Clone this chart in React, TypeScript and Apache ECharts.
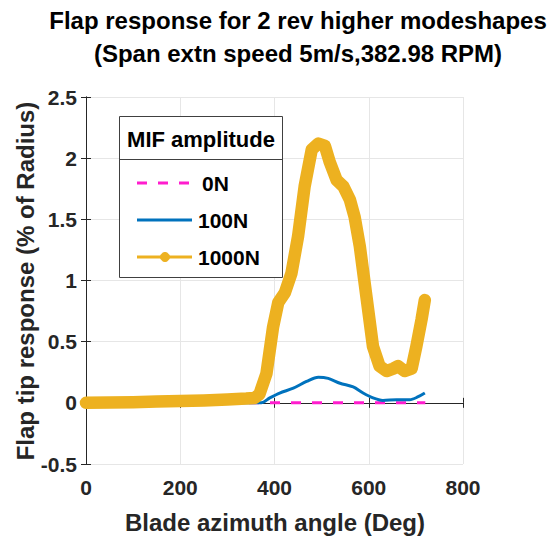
import React, { useEffect, useRef } from "react";
import * as echarts from "echarts";

const titleLines = ["Flap response for 2 rev higher modeshapes", "(Span extn speed 5m/s,382.98 RPM)"];
const xAxisName = "Blade azimuth angle (Deg)";
const yAxisName = "Flap tip response (% of Radius)";
const legendTitle = "MIF amplitude";
const seriesNames = ["0N", "100N", "1000N"];

const angles0N = [0, 720];
const values0N = [0, 0];

const angles100N = [0, 100, 200, 300, 360, 372, 390, 411, 440, 468, 493, 514, 539, 567, 588, 609, 630, 659, 687, 705, 719];
const values100N = [0, 0, 0, 0, 0, 0, 0.04, 0.08, 0.12, 0.175, 0.21, 0.2, 0.16, 0.13, 0.08, 0.04, 0.02, 0.025, 0.025, 0.05, 0.08];

const angles1000N = [0, 50, 100, 150, 200, 250, 300, 340, 358, 368, 383, 397, 408, 422, 436, 450, 464, 479, 493, 507, 517, 532, 546, 560, 570, 581, 595, 609, 623, 638, 652, 662, 676, 691, 701, 712, 719];
const values1000N = [0, 0.002, 0.005, 0.01, 0.015, 0.02, 0.028, 0.035, 0.04, 0.07, 0.24, 0.62, 0.82, 0.9, 1.06, 1.36, 1.77, 2.07, 2.12, 2.1, 1.97, 1.82, 1.77, 1.66, 1.52, 1.28, 0.87, 0.46, 0.3, 0.26, 0.28, 0.3, 0.26, 0.28, 0.46, 0.68, 0.84];

const colors = ["#FF1DCE", "#0072BD", "#EDB120"];

const zip = (a: number[], b: number[]) => a.map((x, i) => [x, b[i]]);

const FONT = "'Liberation Sans', Arial, Helvetica, sans-serif";
const TXT = "#262626";

export default function App() {
  const ref = useRef<HTMLDivElement>(null);
  useEffect(() => {
    if (!ref.current) return;
    const chart = echarts.init(ref.current, undefined, { renderer: "svg" });
    const axisCommon = {
      min: 0,
      axisLine: { show: true, lineStyle: { color: TXT, width: 1 } },
      axisTick: { show: true, inside: true, length: 5, lineStyle: { color: TXT } },
    };
    const lgX = 119, lgY = 116, lgW = 163, lgH = 161;
    const rowY = [183, 220, 257];
    const graphic: any[] = [
      { type: "text", x: 298, y: 20, style: { text: titleLines[0], font: `bold 24px ${FONT}`, fill: "#000", textAlign: "center", textVerticalAlign: "middle" } },
      { type: "text", x: 298, y: 53, style: { text: titleLines[1], font: `bold 24px ${FONT}`, fill: "#000", textAlign: "center", textVerticalAlign: "middle" } },
      { type: "text", x: 275, y: 522, style: { text: xAxisName, font: `bold 24px ${FONT}`, fill: TXT, textAlign: "center", textVerticalAlign: "middle" } },
      { type: "text", x: 25, y: 281, rotation: Math.PI / 2, style: { text: yAxisName, font: `bold 24px ${FONT}`, fill: TXT, textAlign: "center", textVerticalAlign: "middle" } },
      { type: "rect", shape: { x: lgX + 0.5, y: lgY + 0.5, width: lgW, height: lgH }, style: { fill: "#fff", stroke: "#404040", lineWidth: 1 }, z: 100 },
      { type: "line", shape: { x1: lgX, y1: 159.5, x2: lgX + lgW, y2: 159.5 }, style: { stroke: "#404040", lineWidth: 1 }, z: 101 },
      { type: "text", x: lgX + lgW / 2 + 0.5, y: 139, style: { text: legendTitle, font: `bold 22px ${FONT}`, fill: "#000", textAlign: "center", textVerticalAlign: "middle" }, z: 101 },
    ];
    seriesNames.forEach((n, i) => {
      const y = rowY[i];
      graphic.push({
        type: "line",
        shape: { x1: 137, y1: y, x2: 192, y2: y },
        style: { stroke: colors[i], lineWidth: 3, lineDash: i === 0 ? [10, 11] : null },
        z: 101,
      });
      if (i === 2) {
        graphic.push({ type: "circle", shape: { cx: 165, cy: y, r: 4.5 }, style: { fill: colors[i], stroke: colors[i] }, z: 102 });
      }
      graphic.push({
        type: "text",
        x: i === 0 ? 202 : 198,
        y,
        style: { text: n, font: `bold 21px ${FONT}`, fill: "#000", textAlign: "left", textVerticalAlign: "middle" },
        z: 101,
      });
    });

    chart.setOption({
      animation: false,
      grid: { left: 86, right: 90, top: 97, bottom: 79 },
      xAxis: [
        {
          ...axisCommon,
          type: "value",
          max: 800,
          interval: 200,
          axisLabel: { color: TXT, fontWeight: "bold", fontSize: 21, fontFamily: FONT, margin: 13 },
          splitLine: { show: true, lineStyle: { color: "#e6e6e6", width: 1 } },
        },
        {
          ...axisCommon,
          type: "value",
          position: "top",
          max: 800,
          interval: 200,
          axisLabel: { show: false },
          splitLine: { show: false },
        },
      ],
      yAxis: [
        {
          ...axisCommon,
          type: "value",
          min: -0.5,
          max: 2.5,
          interval: 0.5,
          axisLabel: { color: TXT, fontWeight: "bold", fontSize: 21, fontFamily: FONT, margin: 9 },
          splitLine: { show: true, lineStyle: { color: "#e6e6e6", width: 1 } },
        },
        {
          ...axisCommon,
          type: "value",
          position: "right",
          min: -0.5,
          max: 2.5,
          interval: 0.5,
          axisLabel: { show: false },
          splitLine: { show: false },
        },
      ],
      series: [
        {
          name: seriesNames[0],
          type: "line",
          data: zip(angles0N, values0N),
          showSymbol: false,
          lineStyle: { color: colors[0], width: 3, type: [10, 11], dashOffset: 5 },
        },
        {
          name: seriesNames[1],
          type: "line",
          data: zip(angles100N, values100N),
          showSymbol: false,
          smooth: 0.3,
          lineStyle: { color: colors[1], width: 3 },
        },
        {
          name: seriesNames[2],
          type: "line",
          data: zip(angles1000N, values1000N),
          showSymbol: false,
          lineStyle: { color: colors[2], width: 12.5, cap: "round", join: "round" },
        },
      ],
      graphic,
    });
    return () => chart.dispose();
  }, []);
  return <div ref={ref} style={{ width: 553, height: 543, position: "absolute", left: 0, top: 0 }} />;
}
